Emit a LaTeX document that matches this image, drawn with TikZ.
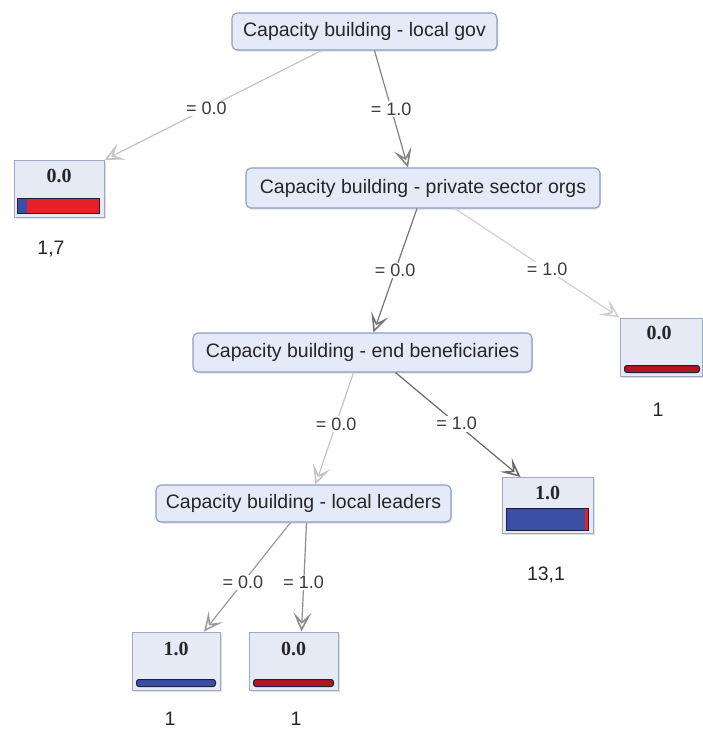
\documentclass[tikz,border=0pt]{standalone}
\usepackage{fontspec}
\setmainfont{Liberation Sans}
\newfontfamily\serifbold{Liberation Serif}
\usetikzlibrary{arrows.meta,shadows,calc}
\definecolor{boxfill}{HTML}{E4EAF7}
\definecolor{boxborder}{HTML}{8E9DC6}
\definecolor{leaffill}{HTML}{E6EAF4}
\definecolor{leafborder}{HTML}{9FA8C2}
\definecolor{textc}{HTML}{262626}
\definecolor{barblue}{HTML}{3B4EA6}
\definecolor{barred}{HTML}{E8202A}
\definecolor{bardred}{HTML}{B3161C}
\definecolor{barline}{HTML}{1E1E3A}
\definecolor{edgelight}{HTML}{C4C4C4}
\definecolor{edgemid}{HTML}{9C9C9C}
\definecolor{edgedark}{HTML}{767676}
\begin{document}
\begin{tikzpicture}[x=1pt,y=-1pt,
  inner/.style={draw=boxborder, fill=boxfill, rounded corners=5pt, line width=1.1pt,
    font=\fontsize{19.5}{21}\selectfont, text=textc, inner sep=0pt,
    drop shadow={shadow xshift=1pt, shadow yshift=-1.5pt, opacity=0.25}},
  leafbox/.style={draw=leafborder, fill=leaffill, line width=1pt, inner sep=0pt,
    drop shadow={shadow xshift=1.5pt, shadow yshift=-1.5pt, opacity=0.25}},
  valtext/.style={font=\serifbold\bfseries\fontsize{20}{22}\selectfont, text=textc},
  counttext/.style={font=\fontsize{19.5}{21}\selectfont, text=textc},
  edgelab/.style={fill=white, inner sep=1.5pt, font=\fontsize{18}{20}\selectfont, text=textc!90},
  conn/.style={line width=1.2pt, -{Stealth[open, length=19pt, width=18pt, inset=9pt, line width=1.6pt]}},
  barframe/.style={draw=barline, line width=1pt},
]
\useasboundingbox (0,0) rectangle (703,731);
\fill[white] (0,0) rectangle (703,731);

% internal nodes
\node[inner, minimum width=265pt, minimum height=37pt] (root) at (364.5,31.5) {Capacity building - local gov};
\node[inner, minimum width=354pt, minimum height=40pt] (n2) at (423,188) {Capacity building - private sector orgs};
\node[inner, minimum width=339pt, minimum height=39pt] (n3) at (362.5,352.5) {Capacity building - end beneficiaries};
\node[inner, minimum width=295pt, minimum height=37pt] (n4) at (303.5,503.5) {Capacity building - local leaders};

% leaves
\node[leafbox, minimum width=90pt, minimum height=57pt] (l1) at (59,189) {};
\node[leafbox, minimum width=82pt, minimum height=58pt] (l2) at (661,347) {};
\node[leafbox, minimum width=91pt, minimum height=56pt] (l3) at (547.5,505.5) {};
\node[leafbox, minimum width=88pt, minimum height=58pt] (l4) at (176,661) {};
\node[leafbox, minimum width=89pt, minimum height=58pt] (l5) at (293.5,661) {};

% leaf values
\node[valtext] (v1) at ($(l1.north)+(0,16)$) {0.0};
\node[valtext] (v2) at ($(l2.north)+(-2,15)$) {0.0};
\node[valtext] (v3) at ($(l3.north)+(0,16)$) {1.0};
\node[valtext] (v4) at ($(l4.north)+(0,17)$) {1.0};
\node[valtext] (v5) at ($(l5.north)+(0,17)$) {0.0};

% bars
\fill[barred] ($(l1.south west)+(4,-5)$) rectangle ($(l1.south east)+(-5,-20)$);
\fill[barblue] ($(l1.south west)+(4,-5)$) rectangle ($(l1.south west)+(13,-20)$);
\draw[barframe] ($(l1.south west)+(4,-5)$) rectangle ($(l1.south east)+(-5,-20)$);

\fill[barblue] ($(l3.south west)+(5,-4)$) rectangle ($(l3.south east)+(-5,-26)$);
\fill[barred] ($(l3.south east)+(-9,-4)$) rectangle ($(l3.south east)+(-5,-26)$);
\draw[barframe] ($(l3.south west)+(5,-4)$) rectangle ($(l3.south east)+(-5,-26)$);

\draw[barframe, fill=bardred, rounded corners=2.5pt] ($(l2.south west)+(5,-4)$) rectangle ($(l2.south east)+(-3,-11)$);
\draw[barframe, fill=barblue, rounded corners=2.5pt] ($(l4.south west)+(5,-4)$) rectangle ($(l4.south east)+(-5,-11)$);
\draw[barframe, fill=bardred, rounded corners=2.5pt] ($(l5.south west)+(5,-4)$) rectangle ($(l5.south east)+(-5,-11)$);

% counts
\node[counttext] (c1) at (51,249) {1,7};
\node[counttext] (c2) at (658,410) {1};
\node[counttext] (c3) at (546,575) {13,1};
\node[counttext] (c4) at (170,719) {1};
\node[counttext] (c5) at (296,719) {1};

% connectors
\draw[conn, edgelight] ([xshift=-43pt]root.south) -- (l1.north east) node[edgelab, pos=0.53] {= 0.0};
\draw[conn, edgedark!90] ([xshift=10pt]root.south) -- ([xshift=-15pt]n2.north) node[edgelab, pos=0.5] {= 1.0};
\draw[conn, edgedark] ([xshift=-6pt]n2.south) -- ([xshift=11pt]n3.north) node[edgelab, pos=0.5] {= 0.0};
\draw[conn, edgelight!80] ([xshift=32pt]n2.south) -- (l2.north west) node[edgelab, pos=0.56] {= 1.0};
\draw[conn, edgelight] ([xshift=-9pt]n3.south) -- ([xshift=12pt]n4.north) node[edgelab, pos=0.46] {= 0.0};
\draw[conn, edgedark!110] ([xshift=33pt]n3.south) -- ([xshift=-27pt]l3.north) node[edgelab, pos=0.49] {= 1.0};
\draw[conn, edgemid] ([xshift=-13pt]n4.south) -- ([xshift=28pt]l4.north) node[edgelab, pos=0.55] {= 0.0};
\draw[conn, edgemid!90!black] ([xshift=3pt]n4.south) -- ([xshift=8pt]l5.north) node[edgelab, pos=0.55] {= 1.0};
\end{tikzpicture}
\end{document}
